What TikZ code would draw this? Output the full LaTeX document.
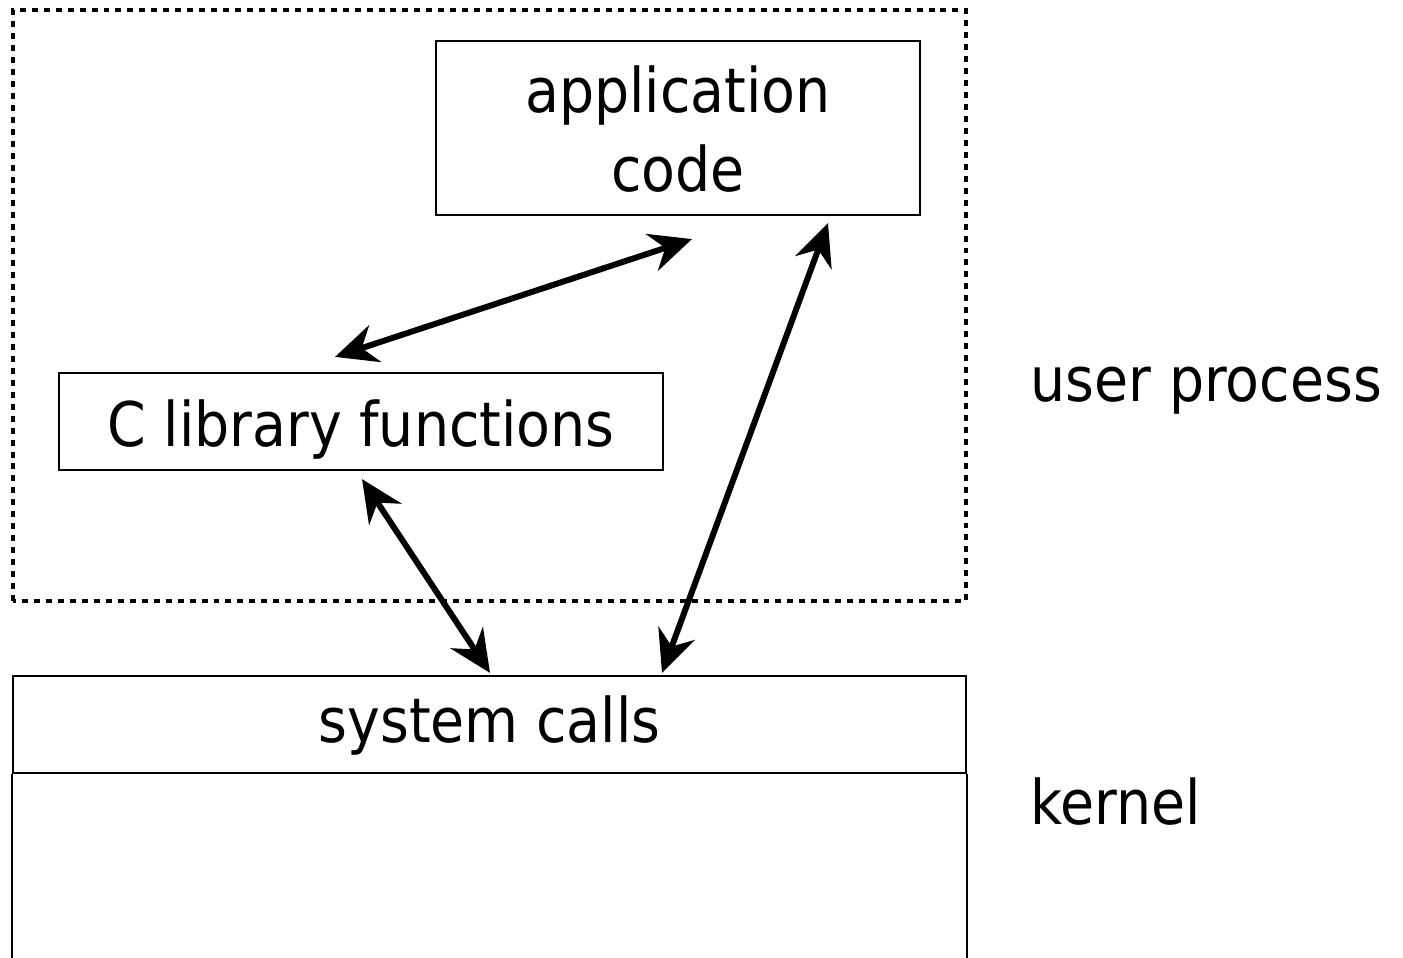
\documentclass[tikz,border=0pt]{standalone}
\usepackage{fontspec}
\setmainfont{DejaVu Sans}[FakeStretch=0.9]
\usetikzlibrary{arrows.meta}

\begin{document}
\begin{tikzpicture}[x=0.01cm, y=0.01cm,
  every node/.style={font=\fontsize{17.5}{22.5}\selectfont, inner sep=0pt},
  box/.style={draw, line width=0.6pt, align=center},
  link/.style={line width=1.7pt, {Stealth[length=12pt,width=11pt,inset=4pt]}-{Stealth[length=12pt,width=11pt,inset=4pt]}},
  userline/.style={line width=1.15pt, dash pattern=on 1.7pt off 1.7pt}]
\useasboundingbox (0, 0) rectangle (1403, 957);
\draw[userline] (13, 356) rectangle (966, 947);
\node[box, minimum width=4.84cm, minimum height=1.74cm, text height=41.4pt, text depth=5pt] (app) at (678, 829) {application\\code};
\node[box, minimum width=6.04cm, minimum height=0.97cm, text height=19.5pt, text depth=5pt] (clib) at (361, 535.5) {C library functions};
\node[box, minimum width=9.53cm, minimum height=0.97cm, text height=15pt, text depth=5pt] (sys) at (489.5, 232.5) {system calls};
\draw[line width=0.6pt] (sys.south west) -- ++(0, -184) (sys.south east) -- ++(0, -184);
\node[anchor=base west] (user) at (1030, 555) {user process};
\node[anchor=base west] (kern) at (1030, 133) {kernel};
\coordinate (clibTop) at ([shift={(-26, 15)}]clib.north);
\coordinate (appLeft) at ([shift={(14, -23)}]app.south);
\coordinate (clibBot) at ([shift={(1, -8)}]clib.south);
\coordinate (sysLeft) at ([shift={(0.5, 2)}]sys.north);
\coordinate (appRight) at ([shift={(150, -7)}]app.south);
\coordinate (sysRight) at ([shift={(172.5, 2)}]sys.north);
\draw[link] (clibTop) -- (appLeft);
\draw[link] (clibBot) -- (sysLeft);
\draw[link] (appRight) -- (sysRight);
\end{tikzpicture}
\end{document}
